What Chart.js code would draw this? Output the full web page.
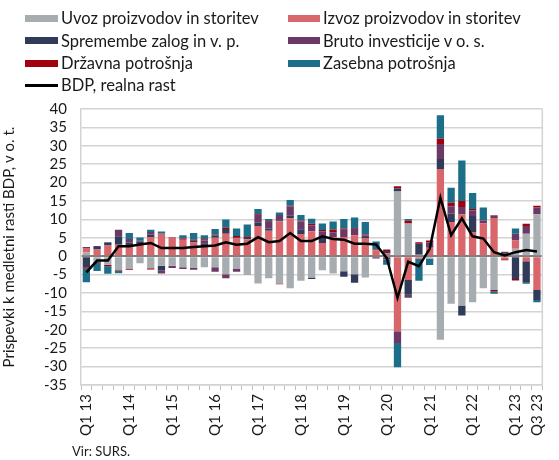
<!DOCTYPE html>
<html><head><meta charset="utf-8">
<script src="https://cdn.jsdelivr.net/npm/chart.js@4.4.0/dist/chart.umd.min.js"></script>
<style>
html,body{margin:0;padding:0;background:#fff;}
#wrap{position:relative;width:559px;height:460px;font-family:Lato,"Open Sans",sans-serif;color:#1a1a1a;overflow:hidden;}
#c{position:absolute;left:0;top:0;}
.lg{position:absolute;font-size:16.5px;line-height:18px;white-space:nowrap;}
.sw{position:absolute;}
#src{position:absolute;left:72px;top:443px;font-size:13px;}
</style></head><body>
<div id="wrap"><canvas id="c" width="559" height="460"></canvas><div id="legend"></div><div id="src">Vir: SURS.</div></div>
<script>
const categories = ["Q1 13","Q2 13","Q3 13","Q4 13","Q1 14","Q2 14","Q3 14","Q4 14","Q1 15","Q2 15","Q3 15","Q4 15","Q1 16","Q2 16","Q3 16","Q4 16","Q1 17","Q2 17","Q3 17","Q4 17","Q1 18","Q2 18","Q3 18","Q4 18","Q1 19","Q2 19","Q3 19","Q4 19","Q1 20","Q2 20","Q3 20","Q4 20","Q1 21","Q2 21","Q3 21","Q4 21","Q1 22","Q2 22","Q3 22","Q4 22","Q1 23","Q2 23","Q3 23"];
const xTickLabels = ["Q1 13","","","","Q1 14","","","","Q1 15","","","","Q1 16","","","","Q1 17","","","","Q1 18","","","","Q1 19","","","","Q1 20","","","","Q1 21","","","","Q1 22","","","","Q1 23","","Q3 23"];
const yTicks = [40,35,30,25,20,15,10,5,0,-5,-10,-15,-20,-25,-30,-35];

const uvoz = [1.0,-1.6,-2.3,-3.8,-3.5,-1.9,-3.3,-2.6,-2.6,-3.0,-3.2,-3.0,-3.0,-4.9,-3.5,-5.1,-7.4,-6.0,-7.4,-8.7,-6.7,-5.8,-3.8,-4.7,-4.1,-4.9,-5.8,-0.3,0.3,17.6,8.9,0.4,-0.7,-22.7,-12.9,-13.4,-12.5,-8.7,-9.2,0.3,2.0,6.1,11.4];
const izvoz = [1.2,1.8,2.9,3.1,2.7,3.3,5.2,6.1,4.8,4.5,3.7,2.8,5.0,6.1,4.8,4.6,8.2,6.9,9.5,10.3,6.0,6.8,3.6,5.2,5.2,5.7,4.8,1.6,0.5,-20.4,-6.5,-0.7,2.3,23.7,9.3,11.4,6.6,8.9,10.4,-0.8,2.3,-1.4,-9.2];
const zaloge = [-3.0,0.7,0.7,2.3,1.0,0.6,0.7,-1.2,0,0,0.5,0.7,0.6,1.3,0.2,0.6,0.9,0.6,0.3,0.7,1.3,-0.4,1.6,0,-1.5,-2.3,0.4,0,0.6,0.8,-4.0,3.0,0,2.7,2.3,-2.7,4.3,0,0,0.5,-6.2,-5.8,-2.7];
const investicije = [0.3,0.3,0.2,1.8,1.0,0.3,0.7,-0.9,-0.6,-0.5,-0.5,0.8,-1.2,-1.1,-0.7,0,2.1,1.8,1.4,2.5,2.1,1.6,1.6,1.3,2.0,1.7,0.5,-0.3,-0.9,-3.2,-0.8,0,1.5,4.1,2.0,2.0,1.5,0.7,0.7,0.4,1.8,2.1,1.8];
const drzavna = [-0.4,-0.2,-0.4,-0.2,-0.2,0,-0.3,0,0.3,0.3,0.3,0.3,0.2,0.4,0.5,0.2,0.2,0.2,-0.2,0.2,0.2,0.4,0.3,0.7,0.3,0.2,0.2,0.2,0.4,0.6,0.7,0.4,0.5,1.4,0.9,1.6,0.4,0.2,-0.3,-0.3,-0.4,0.6,0.5];
const zasebna = [-3.7,-2.2,-2.1,-0.6,1.6,0.9,0.6,0.6,0,0.9,1.8,1.1,1.6,2.2,2.0,3.2,1.4,0.6,0.7,1.6,1.6,1.4,1.8,2.2,2.6,2.9,3.4,2.2,-1.4,-6.6,0.5,-6.0,-1.7,6.4,4.1,11.0,4.4,3.4,-0.7,0,1.4,-0.3,-0.6];
const bdp = [-4.4,-1.2,-1.2,2.7,2.7,3.2,3.6,2.2,2.2,2.2,2.5,2.7,2.9,3.8,3.1,3.4,5.2,3.8,4.1,6.3,4.1,4.1,5.4,4.7,4.5,3.4,3.4,3.2,-0.5,-11.3,-1.5,-2.7,2.0,15.9,5.7,10.3,5.4,4.8,1.1,0.2,1.1,1.7,1.3];

const seriesNames = ["Uvoz proizvodov in storitev","Izvoz proizvodov in storitev","Spremembe zalog in v. p.","Bruto investicije v o. s.","Državna potrošnja","Zasebna potrošnja"];
const seriesColors = ["#a7acb1","#d8666b","#2f3b58","#6c3866","#a1000f","#1c6e89"];
const lineName = "BDP, realna rast";
const seriesData = [uvoz, izvoz, zaloge, investicije, drzavna, zasebna];

const datasets = seriesData.map((d,i)=>({
  type:'bar', label:seriesNames[i], data:d, backgroundColor:seriesColors[i],
  borderWidth:0, barPercentage:0.68, categoryPercentage:1.0, stack:'s', order:1
}));
datasets.push({type:'line', label:lineName, data:bdp, borderColor:'#000', borderWidth:2.5,
  pointRadius:0, tension:0, fill:false, stack:'bdp', order:0});

const gridCol = '#d3d3d3';
const frame = {
  id:'frame',
  beforeDatasetsDraw(chart){
    const {ctx, chartArea:a} = chart;
    ctx.save(); ctx.strokeStyle = gridCol; ctx.lineWidth = 1.5;
    ctx.beginPath(); ctx.moveTo(a.right, a.top); ctx.lineTo(a.right, a.bottom); ctx.stroke();
    ctx.restore();
  }
};

new Chart(document.getElementById('c'), {
  data:{labels:categories, datasets},
  plugins:[frame],
  options:{
    responsive:false, animation:false, devicePixelRatio:1,
    layout:{padding:{top:109,left:0,right:4,bottom:0}},
    plugins:{legend:{display:false}, tooltip:{enabled:false}},
    scales:{
      x:{type:'category', stacked:true, offset:true,
        afterFit(s){ s.height = 75; },
        grid:{offset:true, drawOnChartArea:false, drawTicks:true, tickLength:5, color:'#bfbfbf', lineWidth:1},
        border:{display:true, color:gridCol, width:1.5},
        ticks:{autoSkip:false, maxRotation:90, minRotation:90, padding:4, color:'#1a1a1a',
          font:{family:'Lato', size:15}, callback:(v,i)=>xTickLabels[i]}
      },
      y:{stacked:true, min:-35, max:40,
        afterFit(s){ s.width = 81; },
        afterBuildTicks(s){ s.ticks = yTicks.map(v=>({value:v})); },
        grid:{drawTicks:false, color:c=>c.tick && c.tick.value===0 ? '#808080' : gridCol,
          lineWidth:c=>c.tick && c.tick.value===0 ? 2 : 1.5},
        border:{display:true, color:gridCol, width:1.5},
        ticks:{autoSkip:false, padding:14, color:'#1a1a1a', font:{family:'Lato', size:15}},
        title:{display:true, text:'Prispevki k medletni rasti BDP, v o. t.', color:'#1a1a1a',
          font:{family:'Lato', size:15}, padding:{top:0,bottom:0}}
      }
    }
  }
});

// HTML legend built from the series definitions
const lg = document.getElementById('legend');
const rowsY = [18,40.5,63,85];
const colX = [[25,61],[288,323]];
seriesNames.forEach((n,i)=>{
  const r = Math.floor(i/2), c = i%2;
  const sw = document.createElement('div'); sw.className='sw';
  sw.style.cssText = `left:${colX[c][0]}px;top:${rowsY[r]-3.5}px;width:${colX[c][1]-colX[c][0]-3}px;height:7px;background:${seriesColors[i]}`;
  const t = document.createElement('div'); t.className='lg'; t.textContent=n;
  t.style.left = colX[c][1]+'px'; t.style.top = (rowsY[r]-9)+'px';
  lg.appendChild(sw); lg.appendChild(t);
});
{
  const sw = document.createElement('div'); sw.className='sw';
  sw.style.cssText = `left:25px;top:${rowsY[3]-1}px;width:33px;height:2.5px;background:#000`;
  const t = document.createElement('div'); t.className='lg'; t.textContent=lineName;
  t.style.left = colX[0][1]+'px'; t.style.top=(rowsY[3]-9)+'px';
  lg.appendChild(sw); lg.appendChild(t);
}
</script>
</body></html>
